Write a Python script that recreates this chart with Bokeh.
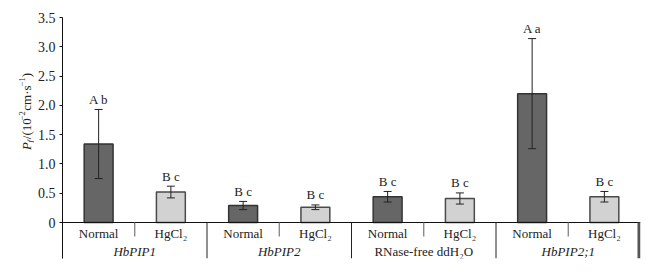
import math
from bokeh.plotting import figure
from bokeh.layouts import row
from bokeh.models import (ColumnDataSource, Range1d, FixedTicker, Whisker, TeeHead)
from bokeh.core.properties import value
from bokeh.embed import file_html
from bokeh.resources import INLINE

# ---- data ----
groups = ["HbPIP1", "HbPIP2", "RNase-free ddH₂O", "HbPIP2;1"]
group_italic = [True, True, False, True]
treatments = ["Normal", "HgCl₂"]
means = [1.34, 0.52, 0.29, 0.26, 0.44, 0.41, 2.20, 0.44]
errors = [0.59, 0.10, 0.07, 0.04, 0.09, 0.095, 0.94, 0.09]
letters = ["A b", "B c", "B c", "B c", "B c", "B c", "A a", "B c"]
y_ticks = [0, 0.5, 1.0, 1.5, 2.0, 2.5, 3.0, 3.5]
y_tick_labels = ["0", "0.5", "1.0", "1.5", "2.0", "2.5", "3.0", "3.5"]

FONT = "Liberation Serif"
DARK_FILL, DARK_LINE = "#666666", "#333333"
LIGHT_FILL, LIGHT_LINE = "#d2d2d2", "#4a4a4a"

n = len(means)
xs = [i + 0.5 for i in range(n)]
fills = [DARK_FILL if i % 2 == 0 else LIGHT_FILL for i in range(n)]
lines = [DARK_LINE if i % 2 == 0 else LIGHT_LINE for i in range(n)]
upper = [m + e for m, e in zip(means, errors)]
lower = [m - e for m, e in zip(means, errors)]

src = ColumnDataSource(dict(x=xs, top=means, fill=fills, line=lines,
                            upper=upper, lower=lower, lab=letters))

W, H = 668, 273
LW = 34                              # width of the y-label strip
FL, FR, FT, FB = 60, 640, 17, 258    # frame edges in page pixels
Y0 = -(FB - 222) / ((222 - FT) / 3.5)
PXY = (FB - FT) / (3.5 - Y0)
PXX = (FR - FL) / n

p = figure(width=W - LW, height=H, output_backend="svg", toolbar_location=None,
           x_range=Range1d(0, n), y_range=Range1d(Y0, 3.5),
           min_border_left=FL - LW, min_border_right=W - FR, min_border_top=FT, min_border_bottom=H - FB)
p.outline_line_color = None
p.xgrid.visible = False
p.ygrid.visible = False
p.xaxis.visible = False
p.background_fill_color = "white"

ya = p.yaxis[0]
ya.ticker = FixedTicker(ticks=y_ticks)
ya.major_label_overrides = {t: l for t, l in zip(y_ticks, y_tick_labels)}
ya.minor_tick_line_color = None
ya.major_tick_in = 0
ya.major_tick_out = 3
ya.major_label_standoff = 4
ya.axis_line_color = "#111111"
ya.major_tick_line_color = "#111111"
ya.major_label_text_font = FONT
ya.major_label_text_font_size = "14px"
ya.major_label_text_color = "#222222"

# bars
p.vbar(x="x", top="top", width=0.4, bottom=0, source=src,
       fill_color="fill", line_color="line", line_width=1.5)

# error bars (drawn over the bars)
w = Whisker(base="x", upper="upper", lower="lower", source=src, level="annotation",
            line_color="#222222", line_width=1,
            upper_head=TeeHead(size=8, line_color="#222222", line_width=1),
            lower_head=TeeHead(size=8, line_color="#222222", line_width=1))
p.add_layout(w)

# significance letters
src.data["laby"] = [u + 10 / PXY for u in upper]
p.text(x="x", y="laby", text="lab", source=src, text_align="center",
       text_baseline="alphabetic", text_font=value(FONT), text_font_size="13px",
       text_color="#222222")

# x axis line at 0
p.segment(x0=[0], y0=[0], x1=[n], y1=[0], line_color="#111111", line_width=1)
# group separators
gx = [2 * g for g in range(1, len(groups))]
p.segment(x0=gx, y0=[0] * len(gx), x1=gx, y1=[Y0] * len(gx), line_color="#222222", line_width=1)
# sub-category separators
sx = [2 * g + 1 for g in range(len(groups))]
p.segment(x0=sx, y0=[0] * len(sx), x1=sx, y1=[-14 / PXY] * len(sx), line_color="#777777", line_width=1.2)
# right thick edge
p.segment(x0=[n - 1.5 / PXX], y0=[0], x1=[n - 1.5 / PXX], y1=[Y0], line_color="#555555", line_width=3)

# category labels
cat_labels = [treatments[i % 2] for i in range(n)]
p.text(x=xs, y=[-11 / PXY] * n, text=cat_labels, text_align="center", text_baseline="middle",
       text_font=value(FONT), text_font_size="13px", text_color="#222222")
gcx = [2 * g + 1 for g in range(len(groups))]
for g, name in enumerate(groups):
    p.text(x=[gcx[g]], y=[-29 / PXY], text=[name], text_align="center", text_baseline="middle",
           text_font=value(FONT), text_font_size="13px", text_color="#222222",
           text_font_style="italic" if group_italic[g] else "normal")

# ---- y-axis label strip (pixel coordinates, y downward) ----
q = figure(width=LW, height=H, output_backend="svg", toolbar_location=None,
           x_range=Range1d(0, LW), y_range=Range1d(H, 0),
           min_border_left=0, min_border_right=0, min_border_top=0, min_border_bottom=0)
q.axis.visible = False
q.grid.visible = False
q.outline_line_color = None

base_x = 26
pieces = [
    ("P", 13, "italic", 0, 8.4),
    ("f", 9, "italic", 3, 3.8),
    ("/(10", 13, "normal", 0, 21.4),
    ("−2", 8.5, "normal", -5, 10.8),
    (" cm·s", 13, "normal", 0, 27.8),
    ("−1", 8.5, "normal", -5, 10.2),
    (")", 13, "normal", 0, 4.5),
]
ycur = 150
for txt, fs, style, dx, wdt in pieces:
    q.text(x=[base_x + dx], y=[ycur], text=[txt], angle=math.pi / 2,
           text_align="left", text_baseline="alphabetic",
           text_font=value(FONT), text_font_size=f"{fs}px", text_font_style=style,
           text_color="#222222")
    ycur -= wdt

layout = row(q, p, spacing=0)
open("out.html", "w").write(file_html(layout, INLINE))
